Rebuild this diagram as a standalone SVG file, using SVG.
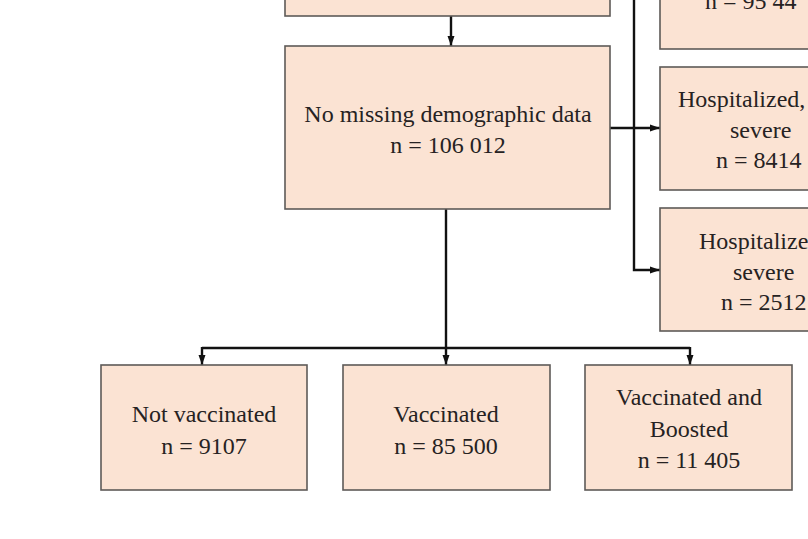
<svg xmlns="http://www.w3.org/2000/svg" width="808" height="539" viewBox="0 0 808 539">
<style>
.box{fill:#fbe3d3;stroke:#5e5a58;stroke-width:1.6}
.t{font-family:"Liberation Serif","Times New Roman",serif;font-size:24px;fill:#262222}
.c{text-anchor:middle}
.ln{fill:none;stroke:#111;stroke-width:2.4}
</style>
<defs>
<marker id="ah" markerUnits="userSpaceOnUse" markerWidth="10" markerHeight="10" viewBox="0 0 10 10" refX="10" refY="5" orient="auto">
<path d="M0,1.5 L10,5 L0,8.5 Z" fill="#111"/>
</marker>
</defs>
<rect width="808" height="539" fill="#fff"/>
<g id="connectors">
<path class="ln" d="M451,16 V46" marker-end="url(#ah)"/>
<path class="ln" d="M610,128 H660" marker-end="url(#ah)"/>
<path class="ln" d="M634,-2 V270 H660" marker-end="url(#ah)"/>
<path class="ln" d="M446,209 V365" marker-end="url(#ah)"/>
<path class="ln" d="M202,348 H690"/>
<path class="ln" d="M202,347 V365" marker-end="url(#ah)"/>
<path class="ln" d="M690,347 V365" marker-end="url(#ah)"/>
</g>
<g id="top-box"><rect class="box" x="285" y="-40" width="325" height="56"/></g>
<g id="main-box"><rect class="box" x="285" y="46" width="325" height="163"/>
<text class="t c" x="448" y="122">No missing demographic data</text>
<text class="t c" x="448" y="153">n = 106 012</text></g>
<g id="right-box-1"><rect class="box" x="660" y="-74" width="170" height="123"/>
<text class="t" x="705" y="9">n = 95 44</text></g>
<g id="right-box-2"><rect class="box" x="660" y="67" width="170" height="123"/>
<text class="t" x="678" y="107">Hospitalized,</text>
<text class="t" x="730" y="138">severe</text>
<text class="t" x="716" y="168">n = 8414</text></g>
<g id="right-box-3"><rect class="box" x="660" y="208" width="170" height="123"/>
<text class="t" x="699" y="249">Hospitalized,</text>
<text class="t" x="733" y="280">severe</text>
<text class="t" x="721" y="310">n = 2512</text></g>
<g id="not-vaccinated"><rect class="box" x="101" y="365" width="206" height="125"/>
<text class="t c" x="204" y="422">Not vaccinated</text>
<text class="t c" x="204" y="454">n = 9107</text></g>
<g id="vaccinated"><rect class="box" x="343" y="365" width="207" height="125"/>
<text class="t c" x="446" y="422">Vaccinated</text>
<text class="t c" x="446" y="454">n = 85 500</text></g>
<g id="boosted"><rect class="box" x="585" y="365" width="207" height="125"/>
<text class="t c" x="689" y="405">Vaccinated and</text>
<text class="t c" x="689" y="437">Boosted</text>
<text class="t c" x="689" y="468">n = 11 405</text></g>
</svg>
